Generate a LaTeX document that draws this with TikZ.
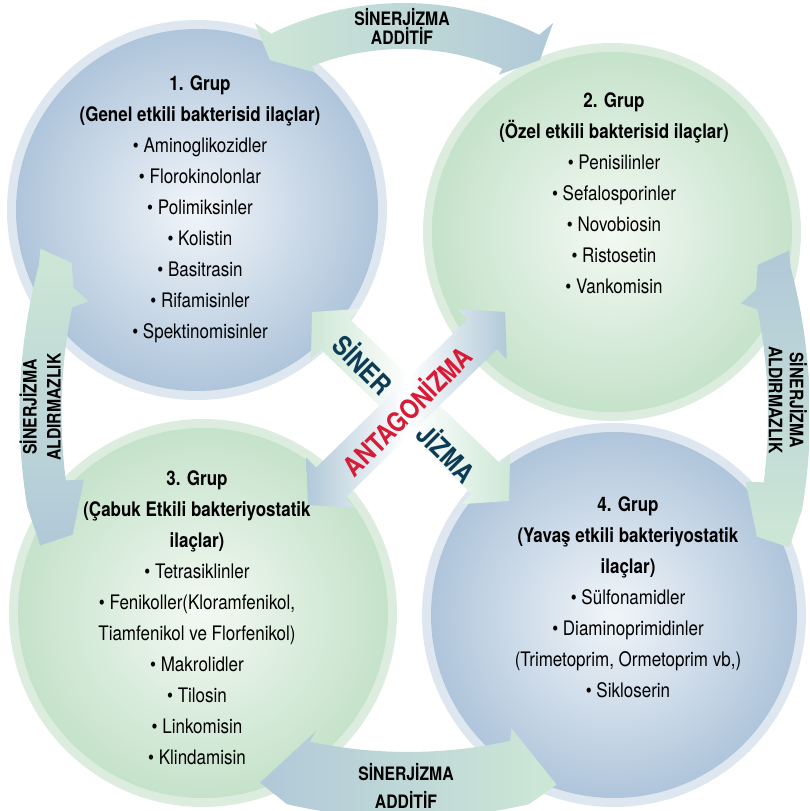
\documentclass[tikz,border=0pt]{standalone}
\usepackage{fontspec}
\setmainfont[FakeStretch=0.85]{TeX Gyre Heros}
\definecolor{circblue}{HTML}{AFC5DB}
\definecolor{coreblue}{HTML}{F1F5F9}
\definecolor{ringblue}{HTML}{DEE7EF}
\definecolor{circgreen}{HTML}{C5E2CA}
\definecolor{coregreen}{HTML}{F3F9F3}
\definecolor{ringgreen}{HTML}{DCEDE0}
\definecolor{arrblue}{HTML}{B1C9D8}
\definecolor{arrgreen}{HTML}{CDE7D6}
\definecolor{sinerblue}{HTML}{0C3B56}
\definecolor{antared}{HTML}{D81B36}
\tikzset{
  grouptext/.style={align=center,font=\fontsize{20}{31}\selectfont},
  arrowtext/.style={align=center,font=\fontsize{18.5}{#1}\selectfont\bfseries},
  crosstext/.style={font=\fontsize{27}{30}\selectfont\bfseries},
}
% side arrow, drawn round its own centre (left one; mirrored for the right)
\newcommand{\sidearrow}[1]{%
  \shade[#1] (163.4:575) -- (163.9:541) -- (166.4:533) -- (167.5:515) -- (168.5:530)
    arc[start angle=168.5,end angle=187.3,radius=530] -- (187.5:512) -- (193.2:533)
    -- (193.5:567) -- (189.5:572) arc[start angle=189.5,end angle=165.1,radius=572] -- cycle;}
% straight double arrow: shading, half length
\newcommand{\crossarrow}[2]{%
  \shade[#1] (-#2,0) -- (-#2+32,35) -- (-#2+32,21) -- (#2-32,21) -- (#2-32,35)
    -- (#2,0) -- (#2-32,-35) -- (#2-32,-21) -- (-#2+32,-21) -- (-#2+32,-35) -- cycle;}

\begin{document}
\begin{tikzpicture}[x=1pt,y=1pt]
\useasboundingbox (0,0) rectangle (809,811);
\clip (0,0) rectangle (809,811);
% circles
\coordinate (c1) at (197,601);
\coordinate (c2) at (612,579);
\coordinate (c3) at (203,198);
\coordinate (c4) at (614,196);
\fill[ringblue] (c1) circle (190);
\shade[inner color=coreblue,outer color=circblue] (c1) circle (181);
\fill[ringgreen] (c2) circle (189);
\shade[inner color=coregreen,outer color=circgreen] (c2) circle (180);
\fill[ringgreen] (c3) circle (194);
\shade[inner color=coregreen,outer color=circgreen] (c3) circle (185);
\fill[ringblue] (c4) circle (192);
\shade[inner color=coreblue,outer color=circblue] (c4) circle (183);
%
% centre cross
\begin{scope}[shift={(410.5,404.5)},rotate=-43.8]
  \crossarrow{left color=arrgreen,right color=arrgreen,middle color=white}{136.5}
\end{scope}
\begin{scope}[shift={(406.5,402.5)},rotate=44.4]
  \crossarrow{left color=arrblue,right color=arrblue,middle color=white}{138}
\end{scope}
%
% top and bottom arrows
\begin{scope}[shift={(404,505)}]
  \shade[left color=arrgreen,right color=arrblue]
    (118.6:280) -- (117.8:320) -- (116:303) arc[start angle=116,end angle=63.5,radius=303]
    -- (62.2:320) -- (61.1:281) -- (67.7:250) -- (67.5:257)
    arc[start angle=67.5,end angle=111,radius=257] -- (110.9:250) -- cycle;
\end{scope}
\begin{scope}[shift={(408,531)}]
  \shade[left color=arrblue,right color=arrgreen]
    (253.6:524) -- (258.5:460) -- (258:472) arc[start angle=258,end angle=282.5,radius=472]
    -- (283:460) -- (286.4:526) -- (283:538) arc[start angle=283,end angle=257,radius=538] -- cycle;
\end{scope}
% side arrows
\begin{scope}[shift={(591.5,398)}]
  \sidearrow{top color=arrgreen,bottom color=arrblue}
\end{scope}
\begin{scope}[shift={(238,396)},xscale=-1]
  \sidearrow{top color=arrblue,bottom color=arrgreen}
\end{scope}
%
\node (g1) [grouptext] at (200,602) {\textbf{1. Grup}\\ \textbf{(Genel etkili bakterisid ilaçlar)}\\
  • Aminoglikozidler\\ • Florokinolonlar\\ • Polimiksinler\\ • Kolistin\\
  • Basitrasin\\ • Rifamisinler\\ • Spektinomisinler};
\node (g2) [grouptext] at (614,618) {\textbf{2. Grup}\\ \textbf{(Özel etkili bakterisid ilaçlar)}\\
  • Penisilinler\\ • Sefalosporinler\\ • Novobiosin\\ • Ristosetin\\ • Vankomisin};
\node (g3) [grouptext] at (197,193) {\textbf{3. Grup}\\ \textbf{(Çabuk Etkili bakteriyostatik}\\ \textbf{ilaçlar)}\\
  • Tetrasiklinler\\ • Fenikoller(Kloramfenikol,\\ Tiamfenikol ve Florfenikol)\\
  • Makrolidler\\ • Tilosin\\ • Linkomisin\\ • Klindamisin};
\node (g4) [grouptext] at (628,214) {\textbf{4. Grup}\\ \textbf{(Yavaş etkili bakteriyostatik}\\ \textbf{ilaçlar)}\\
  • Sülfonamidler\\ • Diaminoprimidinler\\ (Trimetoprim, Ormetoprim vb,)\\ • Sikloserin};
%
\node (top) [arrowtext=19] at (402,785) {SİNERJİZMA\\ADDİTİF};
\node (bottom) [arrowtext=28] at (406,25) {SİNERJİZMA\\ADDİTİF};
\node (left) [arrowtext=24,rotate=90] at (40,404) {SİNERJİZMA\\ALDIRMAZLIK};
\node (right) [arrowtext=21,rotate=-90] at (788,411) {SİNERJİZMA\\ALDIRMAZLIK};
%
\node (siner) [crosstext,text=sinerblue,rotate=-45] at (364,447) {SİNER};
\node (jizma) [crosstext,text=sinerblue,rotate=-45] at (448,359) {JİZMA};
\node (anta) [crosstext,text=antared,rotate=45] at (406,401) {ANTAGONİZMA};
\end{tikzpicture}
\end{document}
